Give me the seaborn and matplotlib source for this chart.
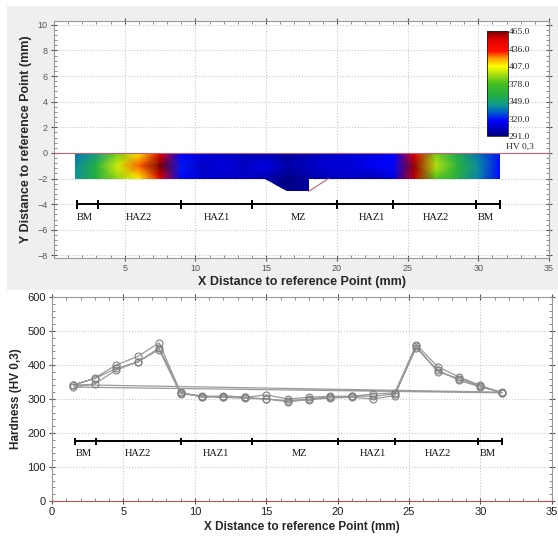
import numpy as np
import pandas as pd
import matplotlib
matplotlib.use("Agg")
import matplotlib.pyplot as plt
import seaborn as sns
from matplotlib.colors import LinearSegmentedColormap, Normalize
from matplotlib.patches import Polygon, Rectangle
from matplotlib.ticker import MultipleLocator
import matplotlib as mpl


# ---------------------------------------------------------------------------
# Data
# ---------------------------------------------------------------------------

x_mm = [1.5, 3.0, 4.5, 6.0, 7.5, 9.0, 10.5, 12.0, 13.5, 15.0, 16.5,
        18.0, 19.5, 21.0, 22.5, 24.0, 25.5, 27.0, 28.5, 30.0, 31.5]

# three indentation rows (HV 0,3)
row_a = [340, 362, 400, 425, 465, 320, 305, 310, 305, 312, 300,
         305, 308, 308, 315, 318, 460, 395, 365, 340, 318]
row_b = [335, 345, 385, 410, 445, 315, 310, 305, 302, 300, 295,
         300, 305, 308, 308, 315, 450, 385, 355, 335, 320]
row_c = [342, 360, 390, 408, 450, 318, 307, 305, 305, 300, 292,
         298, 303, 305, 300, 310, 455, 380, 360, 338, 318]

# depth of each row in the map (mm)
row_depth = [0.0, -1.0, -2.0, -3.0]

zone_edges = [1.6, 3.1, 9.0, 14.0, 20.0, 24.0, 29.8, 31.5]
zone_names = ["BM", "HAZ2", "HAZ1", "MZ", "HAZ1", "HAZ2", "BM"]
zone_centers = [2.2, 6.0, 11.5, 17.3, 22.5, 27.0, 30.5]

# sample outline in the map (mm)
sample_x = [1.5, 31.5, 31.5, 18.0, 18.0, 16.5, 14.9, 1.5]
sample_y = [0.0, 0.0, -2.0, -2.0, -3.0, -3.0, -2.0, -2.0]

cbar_ticks = [291.0, 320.0, 349.0, 378.0, 407.0, 436.0, 465.0]


# ---------------------------------------------------------------------------
# Style
# ---------------------------------------------------------------------------

sns.set_theme(style="white")
plt.rcParams["font.family"] = ["Liberation Sans", "DejaVu Sans"]
serif = ["Liberation Serif", "DejaVu Serif"]

lo, hi = cbar_ticks[0], cbar_ticks[-1]


def pos(v):
    return (v - lo) / (hi - lo)


hv_cmap = LinearSegmentedColormap.from_list("hv", [
    (pos(291), "#000080"),
    (pos(316), "#0000ff"),
    (pos(331), "#0060c8"),
    (pos(343), "#109a90"),
    (pos(358), "#22ad45"),
    (pos(378), "#45c020"),
    (pos(395), "#b4e010"),
    (pos(407), "#ffff00"),
    (pos(420), "#ffa000"),
    (pos(432), "#ff1000"),
    (pos(452), "#e00000"),
    (pos(465), "#780000"),
])
norm = Normalize(vmin=lo, vmax=hi)

fig = plt.figure(figsize=(5.58, 5.38), dpi=100, facecolor="white")
fig.patches.append(Rectangle((0.012, 1 - 290 / 538), 0.988, (290 - 6) / 538,
                             transform=fig.transFigure, facecolor="#efefef",
                             edgecolor="none", zorder=-10))

ax_map = fig.add_axes([0.0968, 0.5204, 0.8872, 0.4406])
ax_hv = fig.add_axes([0.0932, 0.0688, 0.8958, 0.3792])


def zone_bar(ax, y0, half, label_y):
    ax.hlines(y0, zone_edges[0], zone_edges[-1], color="black", lw=1.4)
    ax.vlines(zone_edges, y0 - half, y0 + half, color="black", lw=1.4)
    for name, xc in zip(zone_names, zone_centers):
        ax.text(xc, label_y, name, ha="center", va="center",
                fontsize=7.5, family=serif, color="#111111")


def frame(ax, xminor, yminor, labcolor):
    ax.set_xlim(0, 35)
    ax.xaxis.set_major_locator(MultipleLocator(5))
    ax.xaxis.set_minor_locator(MultipleLocator(xminor))
    ax.yaxis.set_minor_locator(MultipleLocator(yminor))
    ax.grid(True, which="major", color="#c8c8c8", ls=":", lw=0.8)
    ax.tick_params(which="major", direction="inout", length=5, width=0.8,
                   top=True, right=True, bottom=True, left=True,
                   color="#555555", labelcolor=labcolor, pad=2)
    ax.tick_params(which="minor", direction="in", length=2.5, width=0.6,
                   top=True, right=True, bottom=True, left=True, color="#777777")
    for s in ax.spines.values():
        s.set_color("#999999")
        s.set_linewidth(0.8)


# ---------------------------------------------------------------------------
# 1. Hardness map
# ---------------------------------------------------------------------------

grid_x, grid_y = np.meshgrid(x_mm, row_depth)
grid_hv = np.array([row_b, row_a, row_c, row_c], dtype=float)

mesh = ax_map.pcolormesh(grid_x, grid_y, grid_hv, cmap=hv_cmap, norm=norm,
                         shading="gouraud", zorder=2)
clip = Polygon(list(zip(sample_x, sample_y)), closed=True, transform=ax_map.transData,
               facecolor="none", edgecolor="none")
ax_map.add_patch(clip)
mesh.set_clip_path(clip)

ax_map.axhline(0, color="#c06070", lw=0.8, zorder=3)
ax_map.plot([18.0, 19.4], [-3.0, -2.0], color="#c06070", lw=0.8, zorder=3)

zone_bar(ax_map, -4.0, 0.35, -5.05)

frame(ax_map, 1, 0.4, "#555555")
ax_map.set_ylim(-8.2, 10.3)
ax_map.set_yticks(np.arange(-8, 11, 2))
ax_map.set_xticks([5, 10, 15, 20, 25, 30, 35])
ax_map.tick_params(labelsize=6.5)
ax_map.set_facecolor("white")
ax_map.set_xlabel("X Distance to reference Point (mm)", fontsize=9,
                  fontweight="bold", labelpad=2)
ax_map.set_ylabel("Y Distance to reference Point (mm)", fontsize=9,
                  fontweight="bold", labelpad=4)

cax = fig.add_axes([0.873, 0.747, 0.037, 0.195])
cb = mpl.colorbar.ColorbarBase(cax, cmap=hv_cmap, norm=norm, ticks=cbar_ticks)
cb.ax.set_yticklabels([f"{t:.1f}" for t in cbar_ticks], family=serif, fontsize=6.8)
cb.ax.tick_params(length=0, pad=0.5)
cb.outline.set_edgecolor("#222222")
cb.outline.set_linewidth(0.6)
fig.text(0.932, 0.727, "HV 0,3", ha="center", va="center", family=serif, fontsize=6.8)


# ---------------------------------------------------------------------------
# 2. Hardness profile
# ---------------------------------------------------------------------------

profile = pd.DataFrame({
    "x": x_mm * 3,
    "hv": row_a + row_b + row_c,
})

sns.lineplot(data=profile, x="x", y="hv", sort=False, estimator=None, ax=ax_hv,
             color="#9a9a9a", lw=0.9, marker="o", markersize=5,
             markerfacecolor="none", markeredgecolor="#808080",
             markeredgewidth=0.8, zorder=3)

zone_bar(ax_hv, 175, 9, 140)

frame(ax_hv, 1, 20, "#222222")
ax_hv.set_ylim(0, 600)
ax_hv.set_yticks(np.arange(0, 601, 100))
ax_hv.tick_params(labelsize=8)
ax_hv.spines["bottom"].set_color("#c05050")
ax_hv.set_xlabel("X Distance to reference Point (mm)", fontsize=8.5,
                 fontweight="bold", labelpad=3)
ax_hv.set_ylabel("Hardness (HV 0,3)", fontsize=8.5, fontweight="bold", labelpad=4)

fig.savefig("out.png", dpi=100, facecolor=fig.get_facecolor())
